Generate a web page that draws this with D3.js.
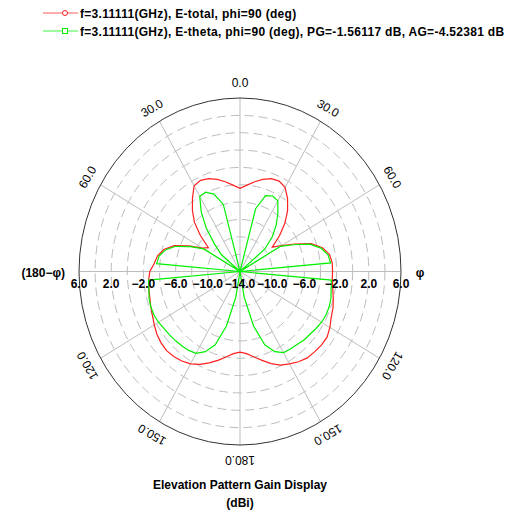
<!DOCTYPE html>
<html>
<head>
<meta charset="utf-8">
<script src="https://cdn.jsdelivr.net/npm/d3@7"></script>
<style>
  body { margin: 0; background: #fff; }
  svg { display: block; }
  text { font-family: "Liberation Sans", Arial, sans-serif; }
</style>
</head>
<body>
<div id="chart"></div>
<script>
// theta in degrees, -180..180 step 5 (negative = left half)
var thetas = d3.range(-180, 181, 5);

// E-total (dB)
var eTotal = [
  -4.7, -4.5, -4.0, -3.4, -2.8, -2.2, -1.7, -1.4, -1.2, -1.1, -1.2, -1.4, -1.7,
  -2.0, -2.2, -2.4, -2.5, -2.6, -2.8, -3.3, -3.6, -4.2, -5.3, -7.0, -8.6, -9.2,
  -7.6, -6.0, -4.8, -3.7, -2.6, -2.4, -2.6, -3.0, -3.5, -4.0,
  -4.4,
  -4.0, -3.5, -3.0, -2.6, -2.5, -2.8, -3.7, -4.8, -6.1, -7.6, -9.1, -8.0, -6.5,
  -4.6, -3.4, -2.7, -2.5, -2.5, -2.5, -2.3, -2.0, -1.7, -1.5, -1.1, -0.8, -0.8,
  -0.9, -1.0, -1.3, -1.7, -2.1, -2.7, -3.4, -4.0, -4.5, -4.7
];

// E-theta (dB)
var eTheta = [
  -30, -17, -11, -7.5, -5.0, -3.8, -3.1, -2.9, -2.8, -2.7, -2.6, -2.5, -2.3,
  -2.2, -2.2, -2.3, -2.5, -2.6, -30, -3.6, -3.8, -4.4, -5.5, -7.2, -8.8, -30,
  -11, -9.5, -7.5, -5.6, -4.0, -3.9, -4.5, -6.0, -16, -22,
  -30,
  -22, -16, -6.5, -4.7, -4.4, -4.6, -5.8, -7.0, -8.3, -10, -30, -8.2, -6.7,
  -4.8, -3.6, -2.9, -2.7, -30, -2.6, -2.5, -2.3, -2.2, -2.2, -2.3, -2.5, -2.7,
  -2.8, -3.0, -3.1, -3.2, -3.8, -5.0, -7.5, -11, -17, -30
];

var ringValues = d3.range(-12, 7, 2);        // -12 .. 6 dB
var ringLabels = [6, 2, -2, -6, -10, -14];
var spokeAngles = d3.range(-150, 181, 30);
var angleLabels = [
  { a: 0, t: "0.0" }, { a: 30, t: "30.0" }, { a: -30, t: "30.0" },
  { a: 60, t: "60.0" }, { a: -60, t: "60.0" },
  { a: 120, t: "120.0" }, { a: -120, t: "120.0" },
  { a: 150, t: "150.0" }, { a: -150, t: "150.0" }, { a: 180, t: "180.0" }
];
var legendItems = [
  { text: "f=3.11111(GHz), E-total, phi=90 (deg)", color: "#ff2020", marker: "circle" },
  { text: "f=3.11111(GHz), E-theta, phi=90 (deg), PG=-1.56117 dB, AG=-4.52381 dB", color: "#00f000", marker: "square" }
];

var width = 527, height = 512;
var cx = 240, cy = 271.5, rx = 161, ry = 173.5;

var svg = d3.select("#chart").append("svg")
  .attr("width", width)
  .attr("height", height);

// radial scales (elliptical plot)
var xr = d3.scaleLinear().domain([-14, 6]).range([0, rx]).clamp(true);
var yr = d3.scaleLinear().domain([-14, 6]).range([0, ry]).clamp(true);
var rad = function(a) { return a * Math.PI / 180; };
var px = function(a, v) { return cx + xr(v) * Math.sin(rad(a)); };
var py = function(a, v) { return cy - yr(v) * Math.cos(rad(a)); };

var grid = svg.append("g");

// dashed rings
grid.selectAll("ellipse.ring")
  .data(ringValues.filter(function(v) { return v < 6; }))
  .enter()
  .append("ellipse")
  .attr("class", "ring")
  .attr("cx", cx).attr("cy", cy)
  .attr("rx", function(v) { return xr(v); })
  .attr("ry", function(v) { return yr(v); })
  .attr("fill", "none")
  .attr("stroke", "#bdbdbd")
  .attr("stroke-dasharray", "9,5");

// spokes
grid.selectAll("line.spoke")
  .data(spokeAngles)
  .enter()
  .append("line")
  .attr("x1", cx).attr("y1", cy)
  .attr("x2", function(a) { return px(a, 6); })
  .attr("y2", function(a) { return py(a, 6); })
  .attr("stroke", "#bdbdbd");

// outer ring
grid.append("ellipse")
  .attr("cx", cx).attr("cy", cy)
  .attr("rx", rx).attr("ry", ry)
  .attr("fill", "none")
  .attr("stroke", "#333");

// curves
var line = d3.line()
  .x(function(d) { return px(d.a, d.v); })
  .y(function(d) { return py(d.a, d.v); });

var series = [
  { vals: eTotal, color: "#ff2020" },
  { vals: eTheta, color: "#00f000" }
];
svg.selectAll("path.curve")
  .data(series)
  .enter()
  .append("path")
  .attr("class", "curve")
  .attr("d", function(s) {
    return line(thetas.map(function(a, i) { return { a: a, v: s.vals[i] }; }));
  })
  .attr("fill", "none")
  .attr("stroke", function(s) { return s.color; })
  .attr("stroke-width", 1.2);

// dB labels along horizontal axis
var dbLab = [];
ringLabels.forEach(function(v) {
  dbLab.push({ x: cx - xr(v), v: v });
  if (v > -14) dbLab.push({ x: cx + xr(v), v: v });
});
svg.selectAll("text.db")
  .data(dbLab)
  .enter()
  .append("text")
  .attr("x", function(d) { return d.x; })
  .attr("y", cy + 16)
  .attr("text-anchor", "middle")
  .attr("font-size", "12px")
  .attr("font-weight", "bold")
  .text(function(d) { return d3.format(".1f")(d.v); });

// angle labels
var off = 11;
svg.selectAll("text.ang")
  .data(angleLabels)
  .enter()
  .append("text")
  .attr("transform", function(d) {
    var x = cx + (rx + off) * Math.sin(rad(d.a));
    var y = cy - (ry + off) * Math.cos(rad(d.a));
    return "translate(" + x + "," + y + ") rotate(" + d.a + ")";
  })
  .attr("text-anchor", "middle")
  .attr("font-size", "12px")
  .text(function(d) { return d.t; });

svg.append("text")
  .attr("x", 65).attr("y", cy + 5)
  .attr("text-anchor", "end")
  .attr("font-size", "12px").attr("font-weight", "bold")
  .text("(180\u2212\u03c6)");
svg.append("text")
  .attr("x", 420).attr("y", cy + 5)
  .attr("text-anchor", "middle")
  .attr("font-size", "12px").attr("font-weight", "bold")
  .text("\u03c6");

// legend
var leg = svg.selectAll("g.leg")
  .data(legendItems)
  .enter()
  .append("g")
  .attr("transform", function(d, i) { return "translate(0," + (13 + i * 18) + ")"; });
leg.append("line")
  .attr("x1", 43).attr("x2", 78)
  .attr("stroke", function(d) { return d.color; })
  .attr("stroke-opacity", 0.75);
leg.filter(function(d) { return d.marker === "circle"; })
  .append("circle")
  .attr("cx", 65).attr("r", 2.5)
  .attr("fill", "#fff")
  .attr("stroke", function(d) { return d.color; });
leg.filter(function(d) { return d.marker === "square"; })
  .append("rect")
  .attr("x", 62.5).attr("y", -2.5).attr("width", 5).attr("height", 5)
  .attr("fill", "#fff")
  .attr("stroke", function(d) { return d.color; });
leg.append("text")
  .attr("x", 80).attr("y", 4.5)
  .attr("font-size", "12px").attr("font-weight", "bold")
  .attr("letter-spacing", "0.3px")
  .text(function(d) { return d.text; });

// title
svg.append("text")
  .attr("x", cx).attr("y", 489)
  .attr("text-anchor", "middle")
  .attr("font-size", "12px").attr("font-weight", "bold")
  .text("Elevation Pattern Gain Display");
svg.append("text")
  .attr("x", cx).attr("y", 507)
  .attr("text-anchor", "middle")
  .attr("font-size", "12px").attr("font-weight", "bold")
  .text("(dBi)");
</script>
</body>
</html>
